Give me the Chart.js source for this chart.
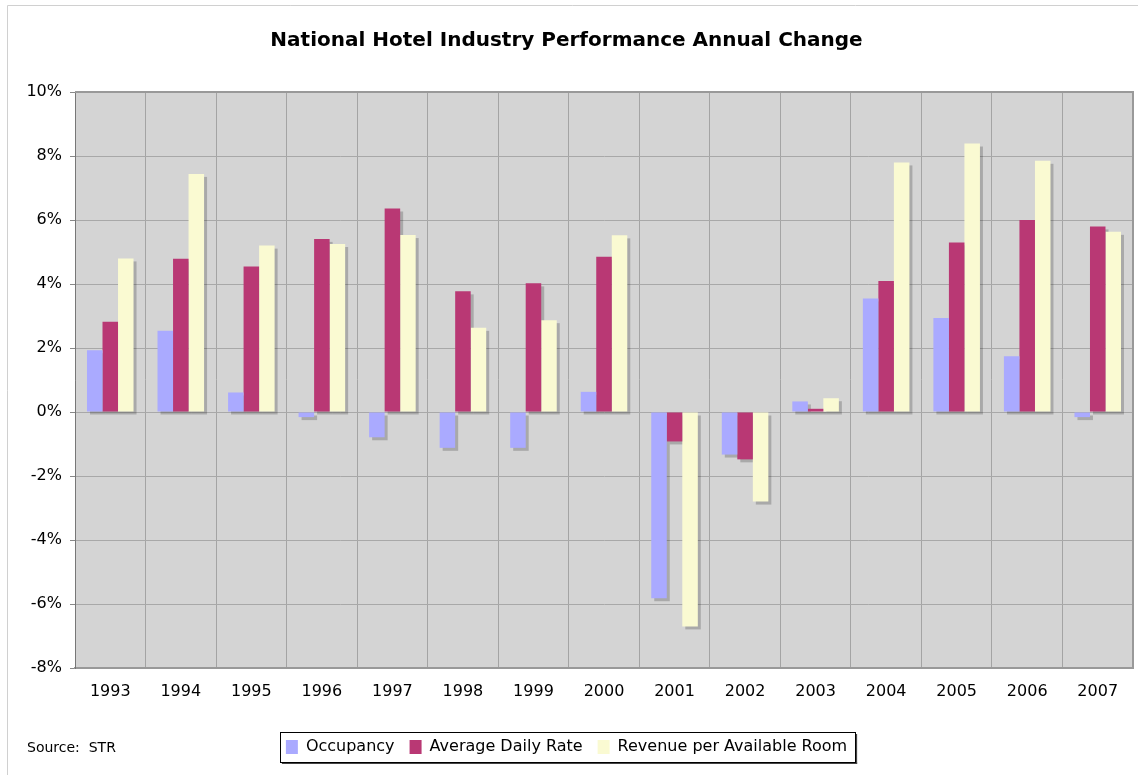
<!DOCTYPE html>
<html>
<head>
<meta charset="utf-8">
<script src="https://cdn.jsdelivr.net/npm/chart.js@4/dist/chart.umd.min.js"></script>
<style>
  html, body { margin: 0; padding: 0; background: #fff; }
  #wrap { width: 1138px; height: 775px; position: relative; }
</style>
</head>
<body>
<div id="wrap"><canvas id="hotelChart"></canvas></div>
<script>
'use strict'

const years = ['1993', '1994', '1995', '1996', '1997', '1998', '1999', '2000', '2001', '2002', '2003', '2004', '2005', '2006', '2007'];
const occupancy = [1.93, 2.54, 0.61, -0.16, -0.79, -1.12, -1.12, 0.63, -5.82, -1.33, 0.33, 3.55, 2.94, 1.74, -0.16];
const averageDailyRate = [2.82, 4.79, 4.55, 5.41, 6.36, 3.77, 4.02, 4.85, -0.92, -1.48, 0.1, 4.09, 5.3, 6.0, 5.8];
const revPar = [4.8, 7.44, 5.2, 5.25, 5.53, 2.63, 2.87, 5.52, -6.7, -2.8, 0.43, 7.8, 8.39, 7.85, 5.63];
const yTicks = [10, 8, 6, 4, 2, 0, -2, -4, -6, -8];

const fontFamily = '"DejaVu Sans", Verdana, sans-serif';

// grey plot background, frame and the bar shadows
const decor = {
  id: 'decor',
  beforeDraw(chart) {
    const { ctx, chartArea: a } = chart;
    ctx.save();
    ctx.fillStyle = '#fff';
    ctx.fillRect(0, 0, chart.width, chart.height);
    ctx.strokeStyle = '#d0d0d0';
    ctx.lineWidth = 1;
    ctx.beginPath();
    ctx.moveTo(7.5, chart.height);
    ctx.lineTo(7.5, 5.5);
    ctx.lineTo(chart.width, 5.5);
    ctx.stroke();
    ctx.fillStyle = '#d4d4d4';
    ctx.fillRect(a.left, a.top, a.right - a.left, a.bottom - a.top);
    ctx.restore();
  },
  beforeDatasetsDraw(chart) {
    const { ctx, chartArea: a } = chart;
    ctx.save();
    ctx.strokeStyle = '#999';
    ctx.lineWidth = 2;
    ctx.beginPath();
    ctx.moveTo(a.left, a.top);
    ctx.lineTo(a.right, a.top);
    ctx.lineTo(a.right, a.bottom);
    ctx.stroke();
    // shadows under every bar, offset down-right
    ctx.fillStyle = 'rgba(0, 0, 0, 0.2)';
    chart.data.datasets.forEach((ds, i) => {
      chart.getDatasetMeta(i).data.forEach(bar => {
        const p = bar.getProps(['x', 'y', 'base', 'width'], true);
        const top = Math.min(p.y, p.base);
        const h = Math.abs(p.base - p.y);
        ctx.fillRect(p.x - p.width / 2 + 3, top + 3, p.width, h);
      });
    });
    ctx.restore();
  },
  afterDraw(chart) {
    const ctx = chart.ctx;
    const boxes = chart.legend.legendHitBoxes;
    if (boxes && boxes.length) {
      let l = Infinity, r = -Infinity, t = Infinity, b = -Infinity;
      boxes.forEach(h => {
        l = Math.min(l, h.left); r = Math.max(r, h.left + h.width);
        t = Math.min(t, h.top); b = Math.max(b, h.top + h.height);
      });
      l -= 6; r += 8; t -= 7; b += 7;
      ctx.save();
      ctx.fillStyle = '#444';
      ctx.fillRect(l + 2, b, r - l, 2);
      ctx.fillRect(r, t + 2, 2, b - t);
      ctx.strokeStyle = '#000';
      ctx.lineWidth = 1;
      ctx.strokeRect(Math.round(l) + 0.5, Math.round(t) + 0.5, Math.round(r - l), Math.round(b - t));
      ctx.restore();
    }
    ctx.save();
    ctx.fillStyle = '#000';
    ctx.font = '14px ' + fontFamily;
    ctx.textBaseline = 'middle';
    ctx.fillText('Source:  STR', 27, 748);
    ctx.restore();
  }
};

const data = {
  labels: years,
  datasets: [
    { label: 'Occupancy', data: occupancy, backgroundColor: '#aaaaff' },
    { label: 'Average Daily Rate', data: averageDailyRate, backgroundColor: '#b93874' },
    { label: 'Revenue per Available Room', data: revPar, backgroundColor: '#fafad2' }
  ]
};

const options = {
  responsive: false,
  animation: false,
  layout: { padding: { left: 0, right: 5, top: 0, bottom: 10 } },
  datasets: {
    bar: { categoryPercentage: 0.66, barPercentage: 1.0, borderWidth: 0 }
  },
  scales: {
    x: {
      grid: { color: '#a4a4a4', drawTicks: false, offset: true },
      border: { color: '#999', width: 2 },
      ticks: { color: '#000', font: { family: fontFamily, size: 16 }, padding: 14, maxRotation: 0 },
      afterFit(scale) { scale.height = 56; }
    },
    y: {
      min: -8,
      max: 10,
      afterBuildTicks(scale) { scale.ticks = yTicks.map(v => ({ value: v })); },
      grid: { color: '#a8a8a8', tickLength: 5, tickColor: '#888' },
      border: { color: '#777', width: 1 },
      ticks: {
        color: '#000',
        font: { family: fontFamily, size: 16 },
        padding: 8,
        callback: value => value + '%'
      },
      afterFit(scale) { scale.width = 75; }
    }
  },
  plugins: {
    title: {
      display: true,
      text: 'National Hotel Industry Performance Annual Change',
      color: '#000',
      font: { family: fontFamily, size: 20, weight: 'bold' },
      padding: { top: 29, bottom: 39 }
    },
    legend: {
      position: 'bottom',
      labels: {
        color: '#000',
        font: { family: fontFamily, size: 16 },
        boxWidth: 12,
        boxHeight: 14,
        padding: 15
      }
    },
    tooltip: { enabled: false }
  }
};

const canvas = document.getElementById('hotelChart');
canvas.width = 1138;
canvas.height = 775;
const hotelChart = new Chart(canvas.getContext('2d'), {
  type: 'bar',
  data: data,
  options: options,
  plugins: [decor]
});
</script>
</body>
</html>
